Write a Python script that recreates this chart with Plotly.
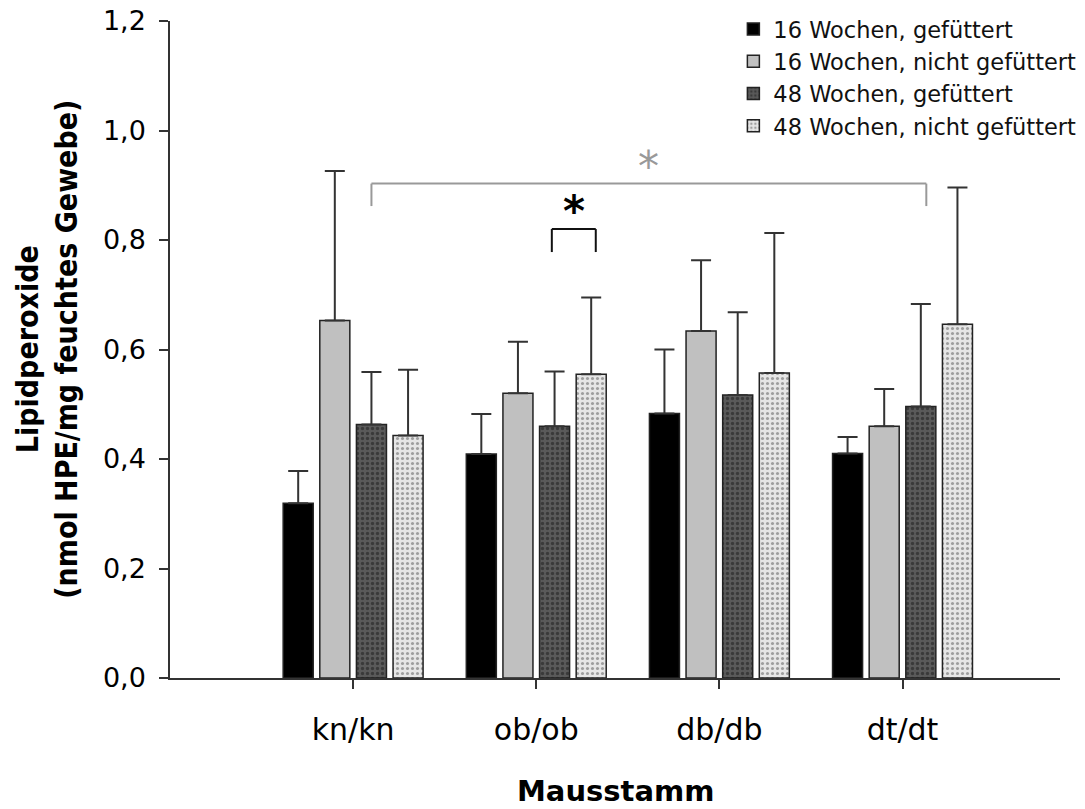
import plotly.graph_objects as go

categories = ["kn/kn", "ob/ob", "db/db", "dt/dt"]
series_names = ["16 Wochen, gefüttert", "16 Wochen, nicht gefüttert",
                "48 Wochen, gefüttert", "48 Wochen, nicht gefüttert"]
values_16_fed = [0.319, 0.409, 0.483, 0.410]
values_16_unfed = [0.653, 0.520, 0.634, 0.460]
values_48_fed = [0.463, 0.460, 0.517, 0.496]
values_48_unfed = [0.443, 0.555, 0.557, 0.646]
err_16_fed = [0.059, 0.073, 0.117, 0.030]
err_16_unfed = [0.273, 0.094, 0.129, 0.068]
err_48_fed = [0.096, 0.100, 0.151, 0.187]
err_48_unfed = [0.120, 0.140, 0.256, 0.250]
y_ticks = [0.0, 0.2, 0.4, 0.6, 0.8, 1.0, 1.2]

values = [values_16_fed, values_16_unfed, values_48_fed, values_48_unfed]
errors = [err_16_fed, err_16_unfed, err_48_fed, err_48_unfed]
styles = [
    dict(color="#000000", pattern=dict(shape="")),
    dict(color="#c0c0c0", pattern=dict(shape="")),
    dict(color="#555555", pattern=dict(shape=".", bgcolor="#5a5a5a", fgcolor="#1a1a1a", size=5, solidity=0.35)),
    dict(color="#dddddd", pattern=dict(shape=".", bgcolor="#e6e6e6", fgcolor="#555555", size=5, solidity=0.3)),
]

xpos = [1, 2, 3, 4]
fig = go.Figure()
for name, vals, errs, st in zip(series_names, values, errors, styles):
    fig.add_trace(go.Bar(
        x=xpos, y=vals, name=name,
        marker=dict(color=st["color"], pattern=st["pattern"],
                    line=dict(color="#222222", width=1.5)),
        error_y=dict(type="data", array=errs, symmetric=False, arrayminus=[0]*4,
                     color="#333333", thickness=2, width=10),
    ))

# bar offset within a group (4 bars, group width 0.8)
def bar_x(cat_index, series_index):
    return xpos[cat_index] + (series_index - 1.5) * 0.2

shapes = []
# gray bracket kn/kn 48 fed -> dt/dt 48 fed
gx0, gx1 = bar_x(0, 2), bar_x(3, 2) + 0.03
shapes += [
    dict(type="line", x0=gx0, x1=gx1, y0=0.903, y1=0.903, line=dict(color="#999999", width=2)),
    dict(type="line", x0=gx0, x1=gx0, y0=0.903, y1=0.862, line=dict(color="#999999", width=2)),
    dict(type="line", x0=gx1, x1=gx1, y0=0.903, y1=0.862, line=dict(color="#999999", width=2)),
]
# black bracket ob/ob 48 fed -> 48 unfed
bx0, bx1 = bar_x(1, 2) - 0.015, bar_x(1, 3) + 0.025
shapes += [
    dict(type="line", x0=bx0, x1=bx1, y0=0.820, y1=0.820, line=dict(color="#111111", width=2)),
    dict(type="line", x0=bx0, x1=bx0, y0=0.820, y1=0.778, line=dict(color="#111111", width=2)),
    dict(type="line", x0=bx1, x1=bx1, y0=0.820, y1=0.778, line=dict(color="#111111", width=2)),
]

annotations = [
    dict(x=(gx0 + gx1) / 2, y=0.903, xref="x", yref="y", text="*", showarrow=False,
         font=dict(family="DejaVu Sans", size=42, color="#999999"), yanchor="bottom", yshift=-9),
    dict(x=(bx0 + bx1) / 2, y=0.820, xref="x", yref="y", text="<b>*</b>", showarrow=False,
         font=dict(family="DejaVu Sans", size=42, color="#000000"), yanchor="bottom", yshift=-9),
    dict(x=0.5, y=-0.172, xref="paper", yref="paper", text="<b>Mausstamm</b>", showarrow=False,
         font=dict(family="DejaVu Sans", size=29, color="#000000"), yanchor="middle"),
    dict(x=-0.139, y=0.5, xref="paper", yref="paper", textangle=-90,
         text="<b>Lipidperoxide<br>(nmol HPE/mg feuchtes Gewebe)</b>", showarrow=False,
         font=dict(family="DejaVu Sans Condensed, Liberation Sans Narrow, Liberation Sans", size=30, color="#000000"),
         xanchor="center", yanchor="middle"),
]

fig.update_layout(
    width=1085, height=809,
    margin=dict(l=170, r=25, t=21, b=131, autoexpand=False),
    paper_bgcolor="white", plot_bgcolor="white",
    barmode="group", bargap=0.2, bargroupgap=0.18,
    separators=",.",
    font=dict(family="DejaVu Sans", color="#000000"),
    shapes=shapes, annotations=annotations,
    legend=dict(x=0.633, y=1.02, xanchor="left", yanchor="top",
                font=dict(family="DejaVu Sans", size=22.5, color="#111111"),
                bgcolor="rgba(0,0,0,0)", itemwidth=30, tracegroupgap=0),
    xaxis=dict(range=[0.0, 4.86], tickmode="array", tickvals=xpos, ticktext=categories,
               showline=True, linecolor="#333333", linewidth=1.5,
               ticks="outside", ticklen=9, tickcolor="#333333", tickwidth=1.5,
               tickfont=dict(family="DejaVu Sans", size=30), ticklabelstandoff=15,
               showgrid=False, zeroline=False),
    yaxis=dict(range=[0, 1.2], tickvals=y_ticks, tickformat=".1f",
               showline=True, linecolor="#333333", linewidth=1.5,
               ticks="outside", ticklen=9, tickcolor="#333333", tickwidth=1.5,
               tickfont=dict(family="DejaVu Sans", size=27), ticklabelstandoff=8,
               showgrid=False, zeroline=False),
)

fig.write_html("out.html", config={"displayModeBar": False},
               post_script="document.body.style.margin='0px';")
